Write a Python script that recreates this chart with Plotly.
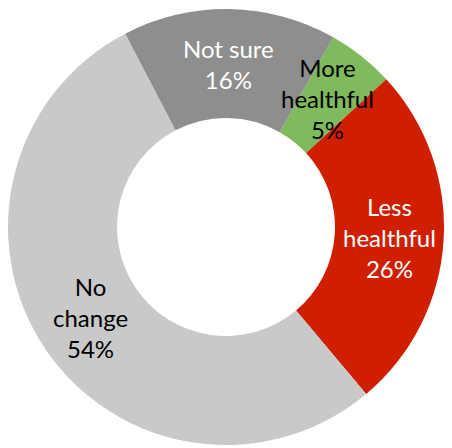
import math
import plotly.graph_objects as go

labels = ["More healthful", "Less healthful", "No change", "Not sure"]
label_lines = ["More<br>healthful", "Less<br>healthful", "No<br>change", "Not sure"]
values = [5, 26, 54, 16]
pct_labels = ["5%", "26%", "54%", "16%"]
colors = ["#7FBA5C", "#CF1F00", "#C9C9C9", "#8E8E8E"]
text_colors = ["#000000", "#FFFFFF", "#000000", "#FFFFFF"]

ROTATION = 29.5
HOLE = 0.5
W, H = 452, 448
ML, MR, MT, MB = 0, 16, 0, 10
PW, PH = W - ML - MR, H - MT - MB

fig = go.Figure(go.Pie(
    labels=labels,
    values=values,
    textinfo="none",
    hoverinfo="label+percent",
    marker=dict(colors=colors, line=dict(width=0)),
    hole=HOLE,
    sort=False,
    direction="clockwise",
    rotation=ROTATION,
    showlegend=False,
))

# label positions: middle of the ring at each slice's mid-angle
R = min(PW, PH) / 2
cx, cy = PW / 2, PH / 2
r_lab = R * (1 + HOLE) / 2
total = sum(values)
start = ROTATION
annotations = []
for lab, v, pct, tc in zip(label_lines, values, pct_labels, text_colors):
    span = v / total * 360
    mid = math.radians(start + span / 2)
    start += span
    px = cx + r_lab * math.sin(mid)
    py = cy - r_lab * math.cos(mid)
    annotations.append(dict(
        x=px / PW, y=1 - py / PH, xref="paper", yref="paper",
        text=f"{lab}<br>{pct}", showarrow=False,
        xanchor="center", yanchor="middle",
        font=dict(family="Lato", size=24, color=tc),
    ))

fig.update_layout(
    width=W, height=H,
    margin=dict(l=ML, r=MR, t=MT, b=MB),
    paper_bgcolor="white",
    annotations=annotations,
)

fig.write_html("out.html")
